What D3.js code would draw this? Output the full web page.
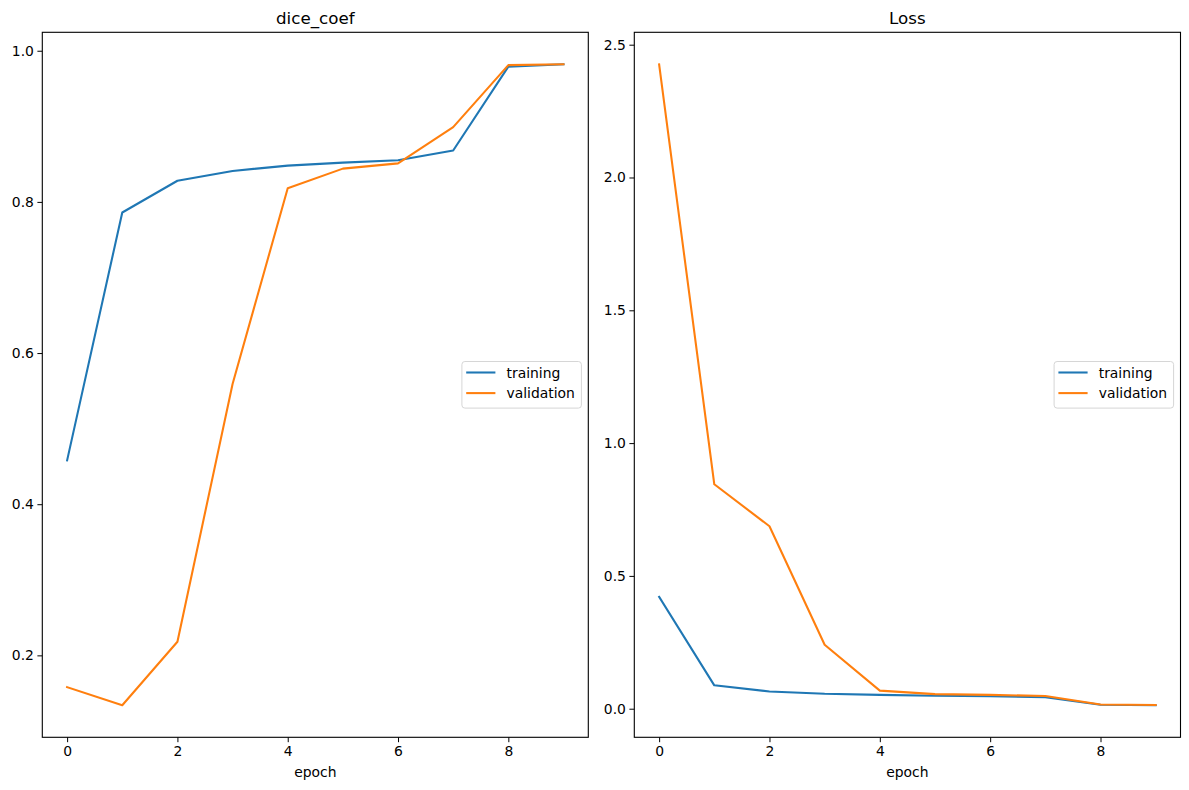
<!DOCTYPE html>
<html><head><meta charset="utf-8">
<script src="https://cdn.jsdelivr.net/npm/d3@7"></script>
<style>
body{margin:0;background:#fff;}
svg{display:block;font-family:"DejaVu Sans",sans-serif;}
</style></head>
<body><svg id="c" width="1189" height="790"></svg>
<script>
const epochs = [0,1,2,3,4,5,6,7,8,9];
const diceTraining   = [0.458,0.786,0.828,0.841,0.848,0.852,0.855,0.868,0.979,0.982];
const diceValidation = [0.158,0.134,0.218,0.559,0.818,0.844,0.851,0.899,0.981,0.982];
const lossTraining   = [0.421,0.088,0.065,0.056,0.052,0.049,0.047,0.043,0.015,0.013];
const lossValidation = [2.426,0.845,0.687,0.241,0.068,0.055,0.052,0.048,0.016,0.014];
const xTicks = [0,2,4,6,8];
const diceTicks = [0.2,0.4,0.6,0.8,1.0];
const lossTicks = [0.0,0.5,1.0,1.5,2.0,2.5];
const seriesNames = ["training","validation"];
const colors = ["#1f77b4","#ff7f0e"];

const svg = d3.select("#c");

function panel(opt){
  const {x0,x1,y0,y1,title,series,yTicks} = opt;
  const all = series.flat();
  const mn = d3.min(all), mx = d3.max(all), pad = (mx-mn)*0.05;
  const x = d3.scaleLinear().domain([-0.45, 9.45]).range([x0,x1]);
  const y = d3.scaleLinear().domain([mn-pad, mx+pad]).range([y1,y0]);
  const g = svg.append("g");
  // axes
  const xa = g.append("g").attr("transform",`translate(0,${y1})`)
    .call(d3.axisBottom(x).tickValues(xTicks).tickSize(4.9).tickPadding(4).tickFormat(d3.format("d")));
  const ya = g.append("g").attr("transform",`translate(${x0},0)`)
    .call(d3.axisLeft(y).tickValues(yTicks).tickSize(4.9).tickPadding(3.5).tickFormat(d3.format(".1f")));
  [xa,ya].forEach(a=>{
    a.select(".domain").remove();
    a.selectAll("text").attr("font-size","13.9px").attr("fill","#000").attr("font-family","DejaVu Sans");
    a.selectAll("line").attr("stroke","#000").attr("stroke-width",1);
  });
  // lines
  const line = d3.line().x((d,i)=>x(epochs[i])).y(d=>y(d));
  series.forEach((s,k)=>{
    g.append("path").datum(s).attr("d",line).attr("fill","none")
      .attr("stroke",colors[k]).attr("stroke-width",2.08).attr("stroke-linejoin","round").attr("stroke-linecap","square");
  });
  // frame
  g.append("rect").attr("x",x0).attr("y",y0).attr("width",x1-x0).attr("height",y1-y0)
    .attr("fill","none").attr("stroke","#000").attr("stroke-width",1.1);
  // title
  g.append("text").attr("x",(x0+x1)/2).attr("y",y0-8).attr("text-anchor","middle")
    .attr("font-size","16.7px").text(title);
  g.append("text").attr("x",(x0+x1)/2).attr("y",y1+40).attr("text-anchor","middle")
    .attr("font-size","13.9px").text("epoch");
  // legend
  const lw = 119.5, lh = 46.6;
  const lx = x1 - 6.9 - lw, ly = (y0+y1)/2 - lh/2;
  const lg = g.append("g");
  lg.append("rect").attr("x",lx).attr("y",ly).attr("width",lw).attr("height",lh)
    .attr("rx",3).attr("fill","#fff").attr("fill-opacity",0.8).attr("stroke","#d6d6d6").attr("stroke-width",1);
  seriesNames.forEach((n,k)=>{
    const yy = ly + 11 + k*20.6;
    lg.append("line").attr("x1",lx+4.3).attr("x2",lx+33.5).attr("y1",yy).attr("y2",yy)
      .attr("stroke",colors[k]).attr("stroke-width",2.08);
    lg.append("text").attr("x",lx+44.6).attr("y",yy).attr("dy","0.36em")
      .attr("font-size","13.9px").text(n);
  });
}

panel({x0:42.3,x1:588.3,y0:32.3,y1:737.3,title:"dice_coef",series:[diceTraining,diceValidation],yTicks:diceTicks});
panel({x0:634.3,x1:1180.5,y0:32.3,y1:737.3,title:"Loss",series:[lossTraining,lossValidation],yTicks:lossTicks});
</script></body></html>
